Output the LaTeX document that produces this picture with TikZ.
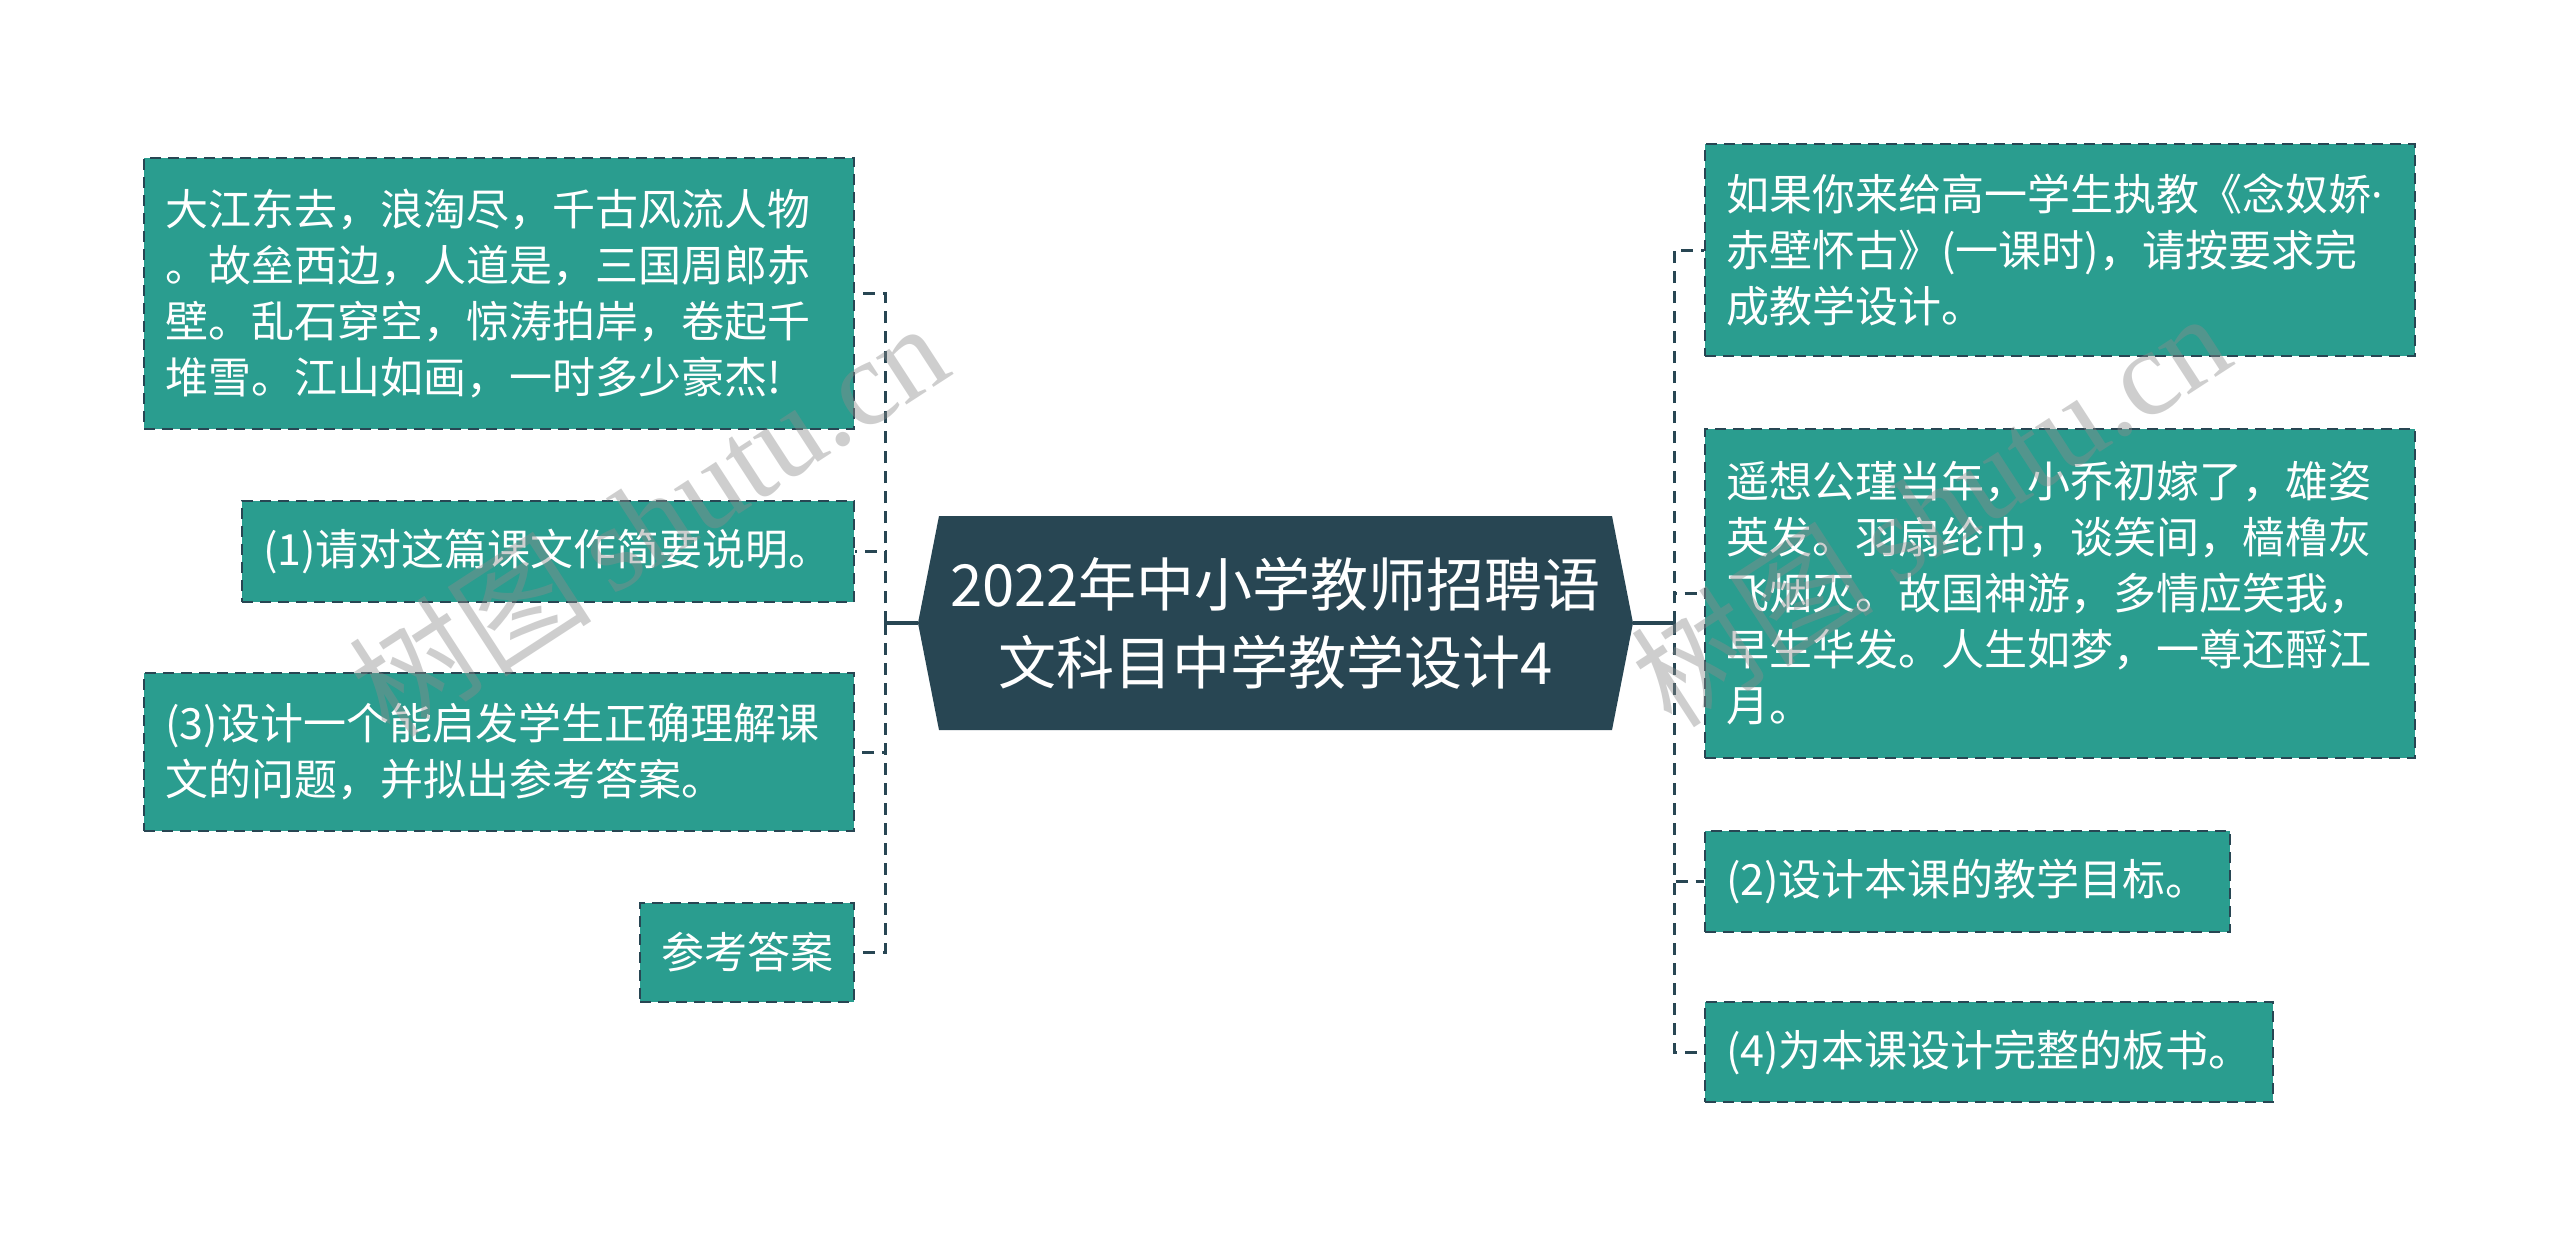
\documentclass[tikz,border=0pt]{standalone}
\usepackage{fontspec}
\newfontfamily\cjk{Noto Sans CJK SC}
\newfontfamily\latin{Noto Sans}
\newfontfamily\wmfont{Liberation Serif}
\definecolor{darkc}{HTML}{284653}
\definecolor{tealc}{HTML}{2A9D8F}
\begin{document}
\begin{tikzpicture}[x=1pt,y=-1pt,
  leaf/.style={draw=darkc, fill=tealc, line width=2.5pt, dash pattern=on 11pt off 7pt,
    text=white, font=\cjk\fontsize{43}{56}\selectfont, align=left,
    inner xsep=21pt, inner ysep=0pt, anchor=center},
  link/.style={draw=darkc, line width=3pt, dash pattern=on 12pt off 8pt},
  trunk/.style={draw=darkc, line width=4pt},
  wm/.style={text=black!45, opacity=0.42, rotate=33, font=\fontsize{122}{130}\selectfont}
]
\useasboundingbox (0,0) rectangle (2560,1247);
\fill[white] (0,0) rectangle (2560,1247);

% center
\coordinate (cl) at (918,623);
\coordinate (cr) at (1633,623);
\fill[darkc] (cl) -- (939,516) -- (1612,516) -- (cr) -- (1612,730) -- (939,730) -- cycle;
\node[text=white, font=\cjk\fontsize{58}{78}\selectfont, align=center] (c) at (1275.5,623)
  {2022年中小学教师招聘语\\文科目中学教学设计4};

% left nodes
\node[leaf, minimum width=710pt, minimum height=271pt, text width=668pt] (l1) at (499,293.5)
  {大江东去，浪淘尽，千古风流人物\\。故垒西边，人道是，三国周郎赤\\壁。乱石穿空，惊涛拍岸，卷起千\\堆雪。江山如画，一时多少豪杰!};
\node[leaf, minimum width=612pt, minimum height=101pt, text width=570pt] (l2) at (548,551.5)
  {(1)请对这篇课文作简要说明。};
\node[leaf, minimum width=710pt, minimum height=158pt, text width=668pt] (l3) at (499,752)
  {(3)设计一个能启发学生正确理解课\\文的问题，并拟出参考答案。};
\node[leaf, minimum width=214pt, minimum height=99pt, text width=172pt] (l4) at (747,952.5)
  {参考答案};

% right nodes
\node[leaf, minimum width=710pt, minimum height=212pt, text width=668pt] (r1) at (2060,250)
  {如果你来给高一学生执教《念奴娇{\latin ·}\\赤壁怀古》(一课时)，请按要求完\\成教学设计。};
\node[leaf, minimum width=710pt, minimum height=329pt, text width=668pt] (r2) at (2060,593.5)
  {遥想公瑾当年，小乔初嫁了，雄姿\\英发。羽扇纶巾，谈笑间，樯橹灰\\飞烟灭。故国神游，多情应笑我，\\早生华发。人生如梦，一尊还酹江\\月。};
\node[leaf, minimum width=525pt, minimum height=101pt, text width=483pt] (r3) at (1967.5,881.5)
  {(2)设计本课的教学目标。};
\node[leaf, minimum width=568pt, minimum height=100pt, text width=526pt] (r4) at (1989,1052)
  {(4)为本课设计完整的板书。};

% connectors
\coordinate (lj) at (885,623);
\coordinate (rj) at (1674,623);
\draw[trunk] (cl) -- (lj);
\draw[trunk] (cr) -- (rj);
\foreach \n in {l1,l2,l3,l4} \draw[link] (lj) |- (\n.east);
\foreach \n in {r1,r2,r3,r4} \draw[link] (rj) |- (\n.west);

% watermarks
\node[wm] (wm1) at (648,518) {{\cjk 树图}\,{\wmfont shutu.cn}};
\node[wm] (wm2) at (1930,508) {{\cjk 树图}\,{\wmfont shutu.cn}};
\end{tikzpicture}
\end{document}
